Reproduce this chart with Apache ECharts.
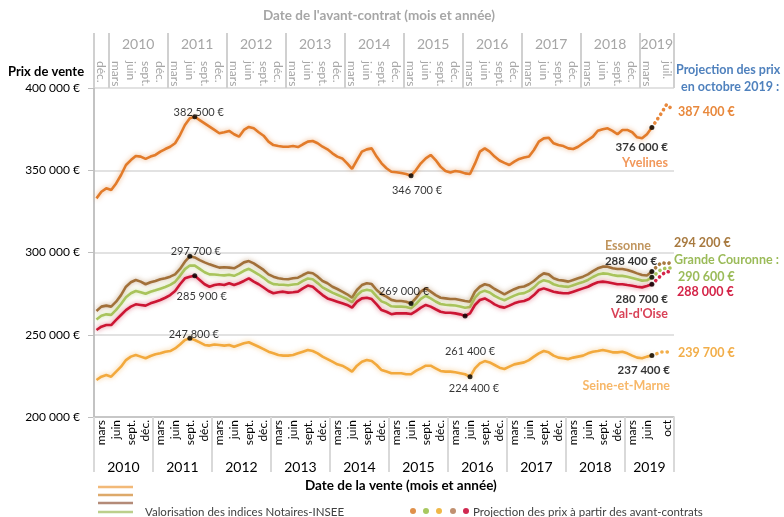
<!DOCTYPE html>
<html><head><meta charset="utf-8">
<script src="https://cdn.jsdelivr.net/npm/echarts@6/dist/echarts.min.js"></script>
<style>html,body{margin:0;padding:0;background:#fff}#c{width:784px;height:517px}</style>
</head><body><div id="c"></div>
<script>
// ---------- DATA ----------
const monthNames = ['janv.','févr.','mars','avr.','mai','juin','juil.','août','sept.','oct.','nov.','déc.'];
const yearLabels = ['2010','2011','2012','2013','2014','2015','2016','2017','2018','2019'];
const saleTickMonths = ['mars','juin','sept.','déc.'];        // bottom axis, each full year
const saleTickLastYear = ['mars','juin','oct'];               // bottom axis, 2019
const contractTickMonths = ['mars','juin','sept.','déc.'];    // top axis, each full year
const contractTickFirst = ['déc.'];                           // top axis, 2009
const contractTickLastYear = ['mars','juil.'];                // top axis, 2019
const yTicks = [200000, 250000, 300000, 350000, 400000];

// monthly values, Jan 2010 -> Jun 2019
const yvelines = [332900,336900,339000,338000,342000,347100,353200,356200,358700,358300,356900,358300,
359300,361300,362900,364300,366400,371400,377500,381600,382500,380500,378500,376500,
374500,372500,373100,373900,371900,370400,374500,376300,375500,373100,371000,367400,
365300,364700,364300,364300,364700,364100,365800,367400,367800,366400,364300,362700,
360300,358300,357200,354200,350800,356200,361300,362700,363300,358300,354200,351200,
349100,348800,348300,347700,346700,350100,354200,357200,359300,356200,352200,349500,
348700,349500,349100,348100,347700,354000,361300,363300,361300,358300,355900,354500,
353200,355200,356900,357700,358300,362300,367400,369400,369800,366400,365300,364700,
363300,362900,364300,366400,368400,370400,374000,374900,375500,373900,371900,374500,
374500,373100,370000,369400,371900,376000];
const essonne = [264500,267100,267700,267100,270100,274100,279200,281900,283300,282300,280700,281900,
282700,283700,284300,285300,286700,290000,294400,297700,297000,295400,294000,292800,
291800,290800,291000,290800,290400,292000,294000,294800,293400,291400,289400,286700,
285300,284300,283900,283700,284300,284700,286300,287800,287400,285300,282700,281300,
279200,277800,276200,274600,272500,277200,280200,281300,280800,277200,274600,273200,
271200,270500,270500,270100,269000,272200,276200,278200,276200,274100,272500,272100,
271700,271700,271100,270500,270100,276200,279200,280700,279900,277800,276200,274600,
276200,277700,278900,279300,280700,282700,285300,287300,286700,284300,283300,282900,
282300,283300,284300,285300,286700,288700,290400,291400,291400,290400,290000,290000,
289400,288400,287300,286300,286000,288400];
const grandeCouronne = [259300,261600,262400,262100,265100,268700,272800,275200,276600,275900,274900,276100,
277000,278000,279000,280300,282200,285800,289900,292100,292000,290000,288000,286700,
286600,286300,286100,286500,285800,287200,288900,290100,288400,286600,284600,282200,
280800,280500,280400,280100,280500,280900,282700,284200,283700,281400,278800,277200,
275600,274300,273000,271700,269800,274000,276600,277300,276700,273300,270300,269100,
267300,267100,267100,266900,266100,268700,271800,273700,272100,270200,268700,268200,
268000,267800,267200,266400,266900,272600,275600,276800,275700,273600,272100,271000,
272400,273800,274900,275300,276700,278800,281700,283200,282400,280700,279800,279400,
279100,280100,281100,282100,283300,285100,286600,287300,287100,286300,285800,285800,
285300,284500,283700,282900,283100,284900];
const valDOise = [252900,254900,255900,255900,259000,262000,265000,267100,268500,268100,267700,269100,
270100,271100,272500,274100,276600,280700,284300,285300,285900,283300,280700,279200,
280200,280700,280200,281300,280200,281300,282700,284300,282300,280700,278700,276600,
275200,275800,276200,275600,275800,276200,278200,279900,279200,276600,274100,272100,
271100,270100,269100,268100,266500,270100,272100,272500,271700,268500,265000,264000,
262500,263000,263000,263000,262600,264400,266500,268100,267100,265500,264000,263400,
263400,263000,262400,261400,263000,268100,271100,272100,270500,268500,267100,266500,
267700,269100,270100,270500,271700,274100,277200,278200,277200,276200,275600,275200,
275200,276200,277200,278200,279200,280700,281900,282300,281900,281300,280700,280700,
280200,279800,279200,278800,279600,280700];
const seineEtMarne = [222500,224500,225500,224500,227600,230600,234600,236700,237700,236700,235700,237100,
238100,238700,239700,240100,241700,244100,246800,247800,246800,245400,243800,243400,
244100,243800,243400,243800,242700,243800,244800,245400,244100,242700,241300,239700,
238700,237700,237300,237300,237700,238700,239700,240700,240100,238700,236700,235200,
233600,232000,231200,229600,227600,231200,233600,234600,234000,231600,228500,227600,
226600,226600,226600,226000,226000,228000,229600,231200,231200,229600,228000,227600,
227600,227200,226600,226000,224400,229600,232600,234000,233200,231600,230000,229200,
230600,232000,232600,233200,234600,236700,238700,240100,239300,237300,236100,235700,
235200,236100,236700,237300,238700,239700,240100,240700,240100,239300,239300,239700,
238700,237300,236100,235700,236700,237400];
// projections Jun 2019 -> Oct 2019
const projYvelines = [376000,380500,385000,390000,387400];
const projEssonne = [288400,291500,294000,293000,294200];
const projGrandeCouronne = [284900,287500,290000,290500,290600];
const projValDOise = [280700,283500,286500,288500,288000];
const projSeineEtMarne = [237400,238500,239500,239500,239700];

// ---------- BUILD ----------
const N = 118; // Jan 2010 .. Oct 2019
const categories = [];
for (let i = 0; i < N; i++) categories.push(monthNames[i % 12] + ' ' + yearLabels[Math.floor(i / 12)]);
const key = v => (Math.round(v * 100) / 100).toFixed(2);
const fmt = v => String(Math.round(v)).replace(/\B(?=(\d{3})+(?!\d))/g, ' ') + ' €';
const monthIdx = t => ({'mars':2,'juin':5,'juil.':6,'sept.':8,'oct':9,'déc.':11})[t];

// bottom axis (date de vente)
const saleLabelMap = {}, saleLabelPos = [];
const addSale = (i, t) => { const v = i - 0.5; saleLabelPos.push(v); saleLabelMap[key(v)] = t; };
for (let y = 0; y < 9; y++) saleTickMonths.forEach(t => addSale(y * 12 + monthIdx(t), t));
saleTickLastYear.forEach(t => addSale(108 + monthIdx(t), t));
const saleSepPos = [], saleYearPos = [], saleYearMap = {};
for (let y = 0; y < 10; y++) {
  saleSepPos.push(y * 12);
  const c = (y * 12 + Math.min(N, y * 12 + 12)) / 2;
  saleYearPos.push(c); saleYearMap[key(c)] = yearLabels[y];
}
saleSepPos.push(N);

// top axis (date de l'avant-contrat) : shifted 3 months earlier
const SHIFT = 3;
const conLabelMap = {}, conLabelPos = [];
const addCon = (k, t) => { const v = k - 0.5; conLabelPos.push(v); conLabelMap[key(v)] = t; };
contractTickFirst.forEach(t => addCon(SHIFT - 12 + monthIdx(t), t));
for (let y = 0; y < 9; y++) contractTickMonths.forEach(t => addCon(SHIFT + y * 12 + monthIdx(t), t));
contractTickLastYear.forEach(t => addCon(SHIFT + 108 + monthIdx(t), t));
const conSepPos = [0], conYearPos = [], conYearMap = {};
for (let y = 0; y < 10; y++) {
  const s = SHIFT + y * 12, e = Math.min(N, s + 12);
  conSepPos.push(s);
  const c = (s + e) / 2;
  conYearPos.push(c); conYearMap[key(c)] = yearLabels[y];
}
conSepPos.push(N);

const FONT = 'Lato';
const COL = {
  yv: '#E27B2A', es: '#A2703A', gc: '#A9C45C', vo: '#CC1634', sm: '#F2A93D'
};
const pad = arr => new Array(N - arr.length).fill(null).concat(arr);

function mainLine(name, data, color, z) {
  return {
    type: 'line', name, data, xAxisIndex: 0, yAxisIndex: 0, z,
    showSymbol: false, symbol: 'none', smooth: false, silent: true,
    lineStyle: { color, width: 2.6, shadowBlur: 5, shadowColor: color + '99' }
  };
}
function projLine(name, data, color, label, offset, rich) {
  return {
    type: 'line', name, data: pad(data), xAxisIndex: 0, yAxisIndex: 0, z: 3,
    showSymbol: false, symbol: 'none', silent: true,
    lineStyle: { color, width: 3.6, type: [0.1, 5.2], cap: 'round' },
    endLabel: {
      show: true, formatter: label, offset, distance: 5,
      color, fontFamily: FONT, fontWeight: 'bold', fontSize: 12.5, lineHeight: 17,
      rich: rich || {}
    }
  };
}

// annotations: [series array, month index, label settings]
function ann(arr, i, pos, offset, extra) {
  return Object.assign({
    value: [i, arr[i]],
    label: { show: true, position: pos, distance: 0, offset, formatter: fmt(arr[i]) }
  }, extra || {});
}
const annData = [
  ann(yvelines, 20, 'top', [4, 4]),
  ann(yvelines, 64, 'bottom', [6, 7]),
  ann(essonne, 19, 'top', [6, 3]),
  ann(valDOise, 20, 'bottom', [7, 13]),
  ann(seineEtMarne, 19, 'top', [4, 4]),
  ann(essonne, 64, 'top', [-7, -4]),
  ann(valDOise, 75, 'bottom', [5, 27]),
  ann(seineEtMarne, 76, 'bottom', [4, 4]),
  {
    value: [113, yvelines[113]],
    label: { show: true, position: 'bottom', distance: 10, align: 'right', offset: [16, 0],
      formatter: '{v|' + fmt(yvelines[113]) + '}\n{n|Yvelines}' }
  },
  {
    value: [113, essonne[113]],
    label: { show: true, position: 'top', distance: 0, align: 'left', offset: [-47, 0],
      formatter: '{ne|Essonne}\n{v|' + fmt(essonne[113]) + '}' }
  },
  { value: [113, grandeCouronne[113]], label: { show: false } },
  {
    value: [113, valDOise[113]],
    label: { show: true, position: 'bottom', distance: 5, align: 'right', offset: [16, 0],
      formatter: '{v|' + fmt(valDOise[113]) + '}\n{nv|Val-d\'Oise}' }
  },
  {
    value: [113, seineEtMarne[113]],
    label: { show: true, position: 'bottom', distance: 5, align: 'right', offset: [18, 0],
      formatter: '{v|' + fmt(seineEtMarne[113]) + '}\n{ns|Seine-et-Marne}' }
  }
];

const grey = '#BFBFBF';
const option = {
  animation: false,
  textStyle: { fontFamily: FONT },
  title: [
    { text: "Date de l'avant-contrat (mois et année)", left: 263, top: 9, padding: 0,
      textStyle: { fontSize: 13.5, fontWeight: 'bold', color: '#A6A6A6', fontFamily: FONT } },
    { text: 'Prix de vente', left: 8, top: 65, padding: 0,
      textStyle: { fontSize: 13, fontWeight: 'bold', color: '#000', fontFamily: FONT } },
    { text: 'Projection des prix', left: 676, top: 63, padding: 0,
      textStyle: { fontSize: 12.5, fontWeight: 'bold', color: '#4F81BD', fontFamily: FONT } },
    { text: 'en octobre 2019 :', left: 681, top: 80, padding: 0,
      textStyle: { fontSize: 12.5, fontWeight: 'bold', color: '#4F81BD', fontFamily: FONT } },
    { text: 'Date de la vente (mois et année)', left: 305, top: 479, padding: 0,
      textStyle: { fontSize: 13.5, fontWeight: 'bold', color: '#000', fontFamily: FONT } }
  ],
  grid: { left: 94, right: 110, top: 88, bottom: 100, containLabel: false },
  xAxis: [
    { type: 'category', data: categories, position: 'bottom', boundaryGap: true,
      axisLine: { show: true, onZero: false, lineStyle: { color: grey, width: 1.5 } },
      axisTick: { show: false }, axisLabel: { show: false }, splitLine: { show: false } },
    { type: 'value', position: 'bottom', min: 0, max: N,
      axisLine: { show: false, onZero: false }, splitLine: { show: false },
      axisTick: { show: true, customValues: saleSepPos, length: 55, lineStyle: { color: '#D9D9D9', width: 2 } },
      axisLabel: { show: true, customValues: saleLabelPos, rotate: 90, margin: 3, fontSize: 12,
        color: '#000', fontFamily: FONT, formatter: v => saleLabelMap[key(v)] || '' } },
    { type: 'value', position: 'bottom', min: 0, max: N,
      axisLine: { show: false, onZero: false }, splitLine: { show: false }, axisTick: { show: false },
      axisLabel: { show: true, customValues: saleYearPos, margin: 43, fontSize: 14, color: '#000',
        fontFamily: FONT, formatter: v => saleYearMap[key(v)] || '' } },
    { type: 'value', position: 'top', min: 0, max: N,
      axisLine: { show: false, onZero: false }, splitLine: { show: false },
      axisTick: { show: true, customValues: conSepPos, length: 55, lineStyle: { color: '#D0D0D0', width: 2 } },
      axisLabel: { show: true, customValues: conLabelPos, rotate: 90, align: 'left', margin: 27, fontSize: 12,
        color: '#A6A6A6', fontFamily: FONT, formatter: v => conLabelMap[key(v)] || '' } },
    { type: 'value', position: 'top', min: 0, max: N,
      axisLine: { show: false, onZero: false }, splitLine: { show: false }, axisTick: { show: false },
      axisLabel: { show: true, customValues: conYearPos, margin: 37, fontSize: 14, color: '#A6A6A6',
        fontFamily: FONT, formatter: v => conYearMap[key(v)] || '' } }
  ],
  yAxis: [
    { type: 'value', min: yTicks[0], max: yTicks[yTicks.length - 1], interval: yTicks[1] - yTicks[0],
      axisLine: { show: true, lineStyle: { color: grey, width: 1.5 } },
      axisTick: { show: true, length: 6, lineStyle: { color: grey } },
      axisLabel: { margin: 14, fontSize: 12, color: '#000', fontFamily: FONT, formatter: v => fmt(v) },
      splitLine: { show: true, lineStyle: { color: '#D9D9D9', width: 1.5 } } },
    { type: 'value', position: 'right', min: yTicks[0], max: yTicks[yTicks.length - 1],
      axisLine: { show: true, lineStyle: { color: grey, width: 1.5 } },
      axisTick: { show: false }, axisLabel: { show: false }, splitLine: { show: false } }
  ],
  series: [
    mainLine('Seine-et-Marne', seineEtMarne, COL.sm, 2),
    mainLine('Yvelines', yvelines, COL.yv, 2),
    mainLine('Essonne', essonne, COL.es, 2),
    mainLine('Grande Couronne', grandeCouronne, COL.gc, 2),
    mainLine("Val-d'Oise", valDOise, COL.vo, 2),
    projLine('proj Yvelines', projYvelines, '#E8883C', fmt(projYvelines[4]), [1.5, 3]),
    projLine('proj Essonne', projEssonne, '#A87A40', fmt(projEssonne[4]), [-2.5, -19]),
    projLine('proj GC', projGrandeCouronne, '#A9C45C',
      '{a|Grande Couronne :}\n{b|' + fmt(projGrandeCouronne[4]) + '}', [-2.5, 1],
      { a: { color: '#9BBB59', fontWeight: 'bold', fontSize: 12.5, fontFamily: FONT, lineHeight: 17 },
        b: { color: '#9BBB59', fontWeight: 'bold', fontSize: 12.5, fontFamily: FONT, lineHeight: 17, padding: [0, 0, 0, 4] } }),
    projLine("proj Val-d'Oise", projValDOise, '#D42448', fmt(projValDOise[4]), [0.5, 20]),
    projLine('proj SeM', projSeineEtMarne, '#F2AE4A', fmt(projSeineEtMarne[4]), [1.5, 1.5]),
    {
      type: 'scatter', xAxisIndex: 0, yAxisIndex: 0, z: 5, silent: true,
      symbol: 'circle', symbolSize: 5, itemStyle: { color: '#000' },
      label: { color: '#000', fontSize: 11, fontFamily: FONT,
        rich: {
          v: { color: '#000', fontSize: 11.5, fontWeight: 'bold', fontFamily: FONT, lineHeight: 15 },
          n: { color: '#ED7D31', fontSize: 12.5, fontWeight: 'bold', fontFamily: FONT, lineHeight: 15 },
          ne: { color: '#B07A36', fontSize: 12.5, fontWeight: 'bold', fontFamily: FONT, lineHeight: 16 },
          nv: { color: '#D0102C', fontSize: 12.5, fontWeight: 'bold', fontFamily: FONT, lineHeight: 15 },
          ns: { color: '#F5A542', fontSize: 12.5, fontWeight: 'bold', fontFamily: FONT, lineHeight: 15 }
        } },
      data: annData
    }
  ],
  graphic: [
    { type: 'line', shape: { x1: 98, y1: 487, x2: 133, y2: 487 }, style: { stroke: '#F2B978', lineWidth: 2.5 } },
    { type: 'line', shape: { x1: 98, y1: 495, x2: 133, y2: 495 }, style: { stroke: '#DDA96A', lineWidth: 2.5 } },
    { type: 'line', shape: { x1: 98, y1: 503, x2: 133, y2: 503 }, style: { stroke: '#B48B78', lineWidth: 2.5 } },
    { type: 'line', shape: { x1: 98, y1: 512, x2: 133, y2: 512 }, style: { stroke: '#BCCF8C', lineWidth: 2.5 } },
    { type: 'text', x: 145, y: 512, style: { text: 'Valorisation des indices Notaires-INSEE', fill: '#404040',
      font: '11.5px Lato', textVerticalAlign: 'middle' } },
    { type: 'circle', shape: { cx: 413, cy: 511, r: 3 }, style: { fill: '#E0904A' } },
    { type: 'circle', shape: { cx: 426, cy: 511, r: 3 }, style: { fill: '#A8C860' } },
    { type: 'circle', shape: { cx: 439, cy: 511, r: 3 }, style: { fill: '#F0B848' } },
    { type: 'circle', shape: { cx: 453, cy: 511, r: 3 }, style: { fill: '#C09070' } },
    { type: 'circle', shape: { cx: 466, cy: 511, r: 3 }, style: { fill: '#D02850' } },
    { type: 'text', x: 473, y: 512, style: { text: 'Projection des prix à partir des avant-contrats', fill: '#404040',
      font: '11.5px Lato', textVerticalAlign: 'middle' } }
  ]
};
const chart = echarts.init(document.getElementById('c'), null, { renderer: 'canvas' });
chart.setOption(option);
</script></body></html>
